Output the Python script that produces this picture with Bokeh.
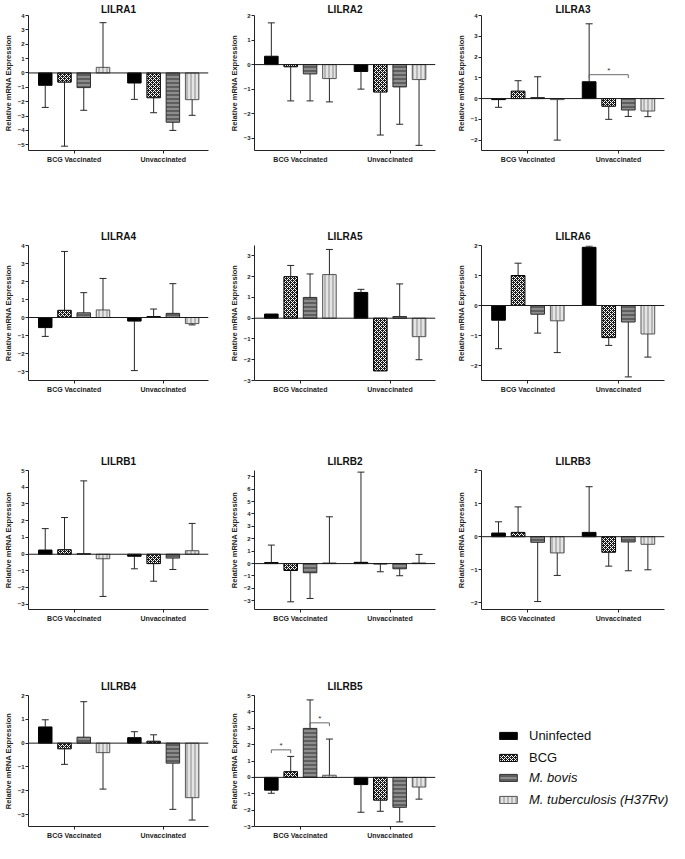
from bokeh.plotting import figure
from bokeh.layouts import column, row
from bokeh.models import Range1d, FixedTicker, Span, Legend, LegendItem, ColumnDataSource
from bokeh.embed import file_html
from bokeh.resources import INLINE
import math

# ---------------- data ----------------
groups = ["BCG Vaccinated", "Unvaccinated"]
series = ["Uninfected", "BCG", "M. bovis", "M. tuberculosis (H37Rv)"]
genes = ["LILRA1", "LILRA2", "LILRA3", "LILRA4", "LILRA5", "LILRA6",
         "LILRB1", "LILRB2", "LILRB3", "LILRB4", "LILRB5"]

# order of 8 bars: BCG Vaccinated (Uninf, BCG, M.bovis, M.tb), Unvaccinated (same)
lilra1_mean = [-0.86, -0.64, -1.02, 0.39, -0.70, -1.73, -3.43, -1.86]
lilra1_sd = [1.54, 4.46, 1.58, 3.11, 1.14, 1.04, 0.57, 1.09]
lilra2_mean = [0.34, -0.09, -0.38, -0.57, -0.28, -1.12, -0.91, -0.61]
lilra2_sd = [1.36, 1.39, 1.10, 0.95, 0.72, 1.75, 1.52, 2.68]
lilra3_mean = [-0.05, 0.36, 0.05, -0.05, 0.81, -0.37, -0.55, -0.60]
lilra3_sd = [0.37, 0.50, 1.00, 1.95, 2.79, 0.63, 0.31, 0.27]
lilra4_mean = [-0.56, 0.40, 0.26, 0.42, -0.20, 0.05, 0.23, -0.34]
lilra4_sd = [0.49, 3.27, 1.12, 1.75, 2.75, 0.42, 1.65, 0.07]
lilra5_mean = [0.20, 2.00, 1.00, 2.10, 1.24, -2.54, 0.08, -0.89]
lilra5_sd = [0.0, 0.54, 1.13, 1.21, 0.15, 0.0, 1.57, 1.11]
lilra6_mean = [-0.49, 1.00, -0.29, -0.51, 1.94, -1.07, -0.55, -0.95]
lilra6_sd = [0.95, 0.41, 0.63, 1.06, 0.04, 0.26, 1.83, 0.77]
lilrb1_mean = [0.25, 0.27, 0.04, -0.27, -0.12, -0.56, -0.23, 0.21]
lilrb1_sd = [1.28, 1.92, 4.34, 2.25, 0.75, 1.05, 0.68, 1.63]
lilrb2_mean = [0.08, -0.56, -0.74, 0.05, 0.10, -0.03, -0.42, 0.05]
lilrb2_sd = [1.41, 2.52, 2.07, 3.72, 7.27, 0.63, 0.56, 0.69]
lilrb3_mean = [0.11, 0.13, -0.17, -0.49, 0.13, -0.47, -0.16, -0.23]
lilrb3_sd = [0.34, 0.77, 1.79, 0.68, 1.38, 0.42, 0.87, 0.77]
lilrb4_mean = [0.68, -0.24, 0.25, -0.40, 0.23, 0.08, -0.84, -2.29]
lilrb4_sd = [0.30, 0.65, 1.49, 1.53, 0.25, 0.27, 1.94, 0.94]
lilrb5_mean = [-0.78, 0.35, 2.99, 0.13, -0.44, -1.39, -1.83, -0.59]
lilrb5_sd = [0.19, 0.93, 1.74, 2.21, 1.69, 0.68, 0.89, 0.74]

# y-axis ranges (low, high)
y_ranges = [(-5.4, 4), (-3.5, 2), (-2.5, 4), (-3.5, 4), (-3, 3.5), (-2.5, 2),
            (-3.3, 5), (-3.7, 7.5), (-2.2, 2), (-3.5, 2), (-3, 5)]

# significance brackets: (bar index a, bar index b, bracket height)
lilra3_sig = [(4, 6, 1.15)]
lilrb5_sig = [(0, 1, 1.68), (2, 3, 3.33)]

means = [lilra1_mean, lilra2_mean, lilra3_mean, lilra4_mean, lilra5_mean, lilra6_mean,
         lilrb1_mean, lilrb2_mean, lilrb3_mean, lilrb4_mean, lilrb5_mean]
sds = [lilra1_sd, lilra2_sd, lilra3_sd, lilra4_sd, lilra5_sd, lilra6_sd,
       lilrb1_sd, lilrb2_sd, lilrb3_sd, lilrb4_sd, lilrb5_sd]
sigs = {2: lilra3_sig, 10: lilrb5_sig}

# ---------------- styling / layout ----------------
FONT = "Liberation Sans"
group_offsets = [0.87, 5.5]
BAR_W = 0.7
CAP = 0.18
X_END = 9.35

styles = [
    dict(fill_color="black", line_color="black"),
    dict(fill_color="#1c1c1c", line_color="black", hatch_pattern="diagonal_cross",
         hatch_color="white", hatch_scale=4, hatch_weight=1),
    dict(fill_color="#8c8c8c", line_color="#303030", hatch_pattern="horizontal_line",
         hatch_color="#303030", hatch_scale=4, hatch_weight=1),
    dict(fill_color="#e4e4e4", line_color="#555555", hatch_pattern="vertical_line",
         hatch_color="#8a8a8a", hatch_scale=4, hatch_weight=1),
]

col_w = [226, 227, 216]
col_r = [18, 18, 5]
row_h = [224, 225, 225, 168]
row_top = [14, 20, 20, 20]
row_bot = [74, 69, 65, 16]
title_standoff = [2, 8, 8, 8]
LEFT = 21


def bar_x(g, s):
    return group_offsets[g] + s


def make_panel(i):
    r, c = divmod(i, 3)
    lo, hi = y_ranges[i]
    p = figure(width=col_w[c], height=row_h[r], output_backend="svg",
               toolbar_location=None, x_range=Range1d(0, X_END),
               y_range=Range1d(lo, hi), min_border_left=LEFT,
               min_border_right=col_r[c], min_border_top=row_top[r],
               min_border_bottom=row_bot[r])
    p.title.text = genes[i]
    p.title.align = "center"
    p.title.text_font = FONT
    p.title.text_font_size = "10px"
    p.title.text_font_style = "bold"
    p.title.text_color = "#111111"
    p.title.standoff = title_standoff[r]
    p.outline_line_color = None
    p.xgrid.visible = False
    p.ygrid.visible = False
    p.background_fill_color = "white"

    m = means[i]
    sd = sds[i]
    for s in range(4):
        xs = [bar_x(g, s) for g in range(2)]
        tops = [m[g * 4 + s] for g in range(2)]
        p.vbar(x=xs, top=tops, bottom=0, width=BAR_W, line_width=1, **styles[s])

    # error bars (one-sided, away from zero)
    ex, ey0, ey1, cx0, cx1, cy = [], [], [], [], [], []
    for g in range(2):
        for s in range(4):
            k = g * 4 + s
            if sd[k] <= 0:
                continue
            x = bar_x(g, s)
            end = m[k] + (sd[k] if m[k] >= 0 else -sd[k])
            ex.append(x); ey0.append(m[k]); ey1.append(end)
            cx0.append(x - CAP); cx1.append(x + CAP); cy.append(end)
    p.segment(x0=ex, y0=ey0, x1=ex, y1=ey1, line_color="#262626", line_width=1)
    p.segment(x0=cx0, y0=cy, x1=cx1, y1=cy, line_color="#262626", line_width=1)

    p.add_layout(Span(location=0, dimension="width", line_color="#1a1a1a", line_width=1))

    if i in sigs:
        drop = 0.025 * (hi - lo)
        for a, b, h in sigs[i]:
            xa = bar_x(a // 4, a % 4)
            xb = bar_x(b // 4, b % 4)
            p.multi_line(xs=[[xa, xa, xb, xb]], ys=[[h - drop, h, h, h - drop]],
                         line_color="#6a6a6a", line_width=1)
            p.text(x=[(xa + xb) / 2], y=[h + 0.03 * (hi - lo)], text=["*"],
                   text_align="center", text_baseline="middle",
                   text_font_size="8px", text_color="#333333")

    # axes
    xa_ = p.xaxis[0]
    centers = [group_offsets[g] + 1.5 for g in range(2)]
    xa_.ticker = FixedTicker(ticks=centers)
    xa_.major_label_overrides = {centers[g]: groups[g] for g in range(2)}
    xa_.minor_tick_line_color = None
    xa_.major_tick_out = 3
    xa_.major_tick_in = 0
    xa_.major_label_standoff = 2
    xa_.major_label_text_font = FONT
    xa_.major_label_text_font_style = "bold"
    xa_.major_label_text_font_size = "7px"
    xa_.major_label_text_color = "#222222"
    xa_.axis_line_color = "#222222"
    xa_.major_tick_line_color = "#222222"

    ya = p.yaxis[0]
    ya.ticker = FixedTicker(ticks=list(range(math.ceil(lo), math.floor(hi) + 1)))
    ya.minor_tick_line_color = None
    ya.major_tick_out = 3
    ya.major_tick_in = 0
    ya.major_label_standoff = 1
    ya.major_label_text_font = FONT
    ya.major_label_text_font_style = "bold"
    ya.major_label_text_font_size = "6px"
    ya.major_label_text_color = "#222222"
    ya.axis_label = "Relative mRNA Expression"
    ya.axis_label_text_font = FONT
    ya.axis_label_text_font_style = "bold"
    ya.axis_label_text_font_size = "7.5px"
    ya.axis_label_text_color = "#222222"
    ya.axis_label_standoff = 2
    ya.axis_line_color = "#222222"
    ya.major_tick_line_color = "#222222"
    return p


panels = [make_panel(i) for i in range(len(genes))]

# legend panel (swatches only; the dummy glyphs have zero size)
lg = figure(width=col_w[2], height=row_h[3], output_backend="svg", toolbar_location=None,
            x_range=Range1d(0, 1), y_range=Range1d(0, 1), x_axis_type=None,
            y_axis_type=None, min_border=0)
lg.outline_line_color = None
lg.xgrid.visible = False
lg.ygrid.visible = False
dummies = []
for s in range(4):
    src = ColumnDataSource(data=dict(x=[0.5], top=[0.5], bottom=[0.5]))
    dummies.append(lg.vbar(x="x", top="top", bottom="bottom", width=0, line_width=1,
                           source=src, **styles[s]))


def make_legend(idx, loc, style):
    leg = Legend(items=[LegendItem(label=series[s], renderers=[dummies[s]]) for s in idx],
                 location=loc, orientation="vertical", margin=0, padding=0,
                 glyph_width=22, glyph_height=9, label_height=14, spacing=7,
                 label_standoff=10, label_text_font=FONT, label_text_font_size="13px",
                 label_text_font_style=style, label_text_color="#111111",
                 background_fill_alpha=0, border_line_color=None)
    lg.add_layout(leg)


make_legend([0, 1], (44, 61), "normal")
make_legend([2, 3], (44, 19), "italic")

layout = column(
    row(panels[0], panels[1], panels[2]),
    row(panels[3], panels[4], panels[5]),
    row(panels[6], panels[7], panels[8]),
    row(panels[9], panels[10], lg),
)

open("out.html", "w").write(file_html(layout, INLINE))
